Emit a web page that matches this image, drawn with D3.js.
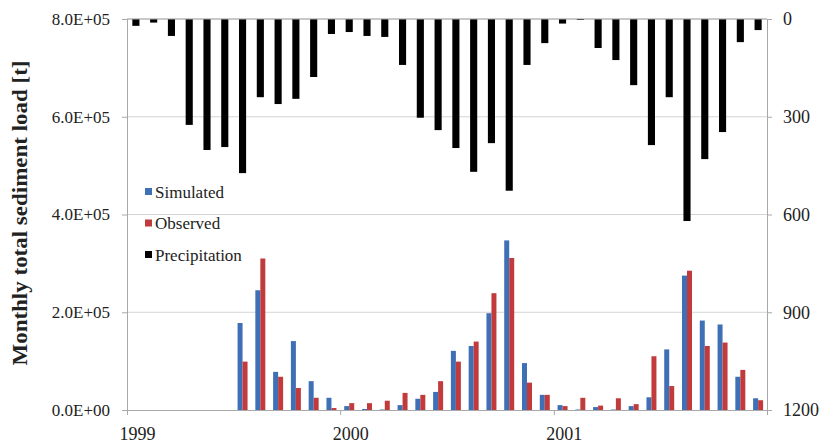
<!DOCTYPE html>
<html>
<head>
<meta charset="utf-8">
<style>
  body { margin: 0; background: #fff; }
  svg text { font-family: "Liberation Serif", "DejaVu Serif", serif; fill: #222; }
  .tick-label { font-size: 17px; }
  .axis-title { font-size: 20px; font-weight: bold; }
</style>
</head>
<body>
<div id="chart"></div>
<script src="https://d3js.org/d3.v7.min.js"></script>
<script>
  // months Jan 1999 .. Dec 2001
  const months = [
    '1999-01', '1999-02', '1999-03', '1999-04', '1999-05', '1999-06',
    '1999-07', '1999-08', '1999-09', '1999-10', '1999-11', '1999-12',
    '2000-01', '2000-02', '2000-03', '2000-04', '2000-05', '2000-06',
    '2000-07', '2000-08', '2000-09', '2000-10', '2000-11', '2000-12',
    '2001-01', '2001-02', '2001-03', '2001-04', '2001-05', '2001-06',
    '2001-07', '2001-08', '2001-09', '2001-10', '2001-11', '2001-12'
  ];

  // sediment load [t]
  const simulated = [
    0, 0, 0, 0, 0, 0, 178000, 245000, 78000, 141000, 59000, 25000,
    8000, 2000, 1000, 10000, 23000, 37000, 121000, 131000, 198000, 347000, 96000, 31000,
    10000, 1000, 6000, 1000, 8000, 26000, 124000, 275000, 183000, 175000, 68000, 24000
  ];
  const observed = [
    0, 0, 0, 0, 0, 0, 99000, 310000, 68000, 45000, 25000, 4000,
    14000, 14000, 19000, 35000, 31000, 59000, 99000, 140000, 239000, 311000, 56000, 31000,
    8000, 25000, 9000, 24000, 12000, 110000, 49000, 285000, 131000, 138000, 82000, 20000
  ];
  // precipitation [mm], hanging from the top
  const precipitation = [
    21, 11, 52, 325, 402, 393, 473, 240, 261, 245, 178, 46,
    40, 52, 55, 141, 303, 341, 396, 469, 381, 527, 141, 74,
    14, 3, 89, 126, 203, 387, 240, 620, 430, 347, 71, 34
  ];

  const leftTicks = [0, 200000, 400000, 600000, 800000];
  const rightTicks = [0, 300, 600, 900, 1200];
  const yearTicks = ['1999', '2000', '2001'];

  const seriesNames = ['Simulated', 'Observed', 'Precipitation'];
  const colors = { Simulated: '#3f70b6', Observed: '#c13b3d', Precipitation: '#000' };

  const width = 825;
  const height = 446;
  const margin = { top: 19, right: 58, bottom: 36, left: 127 };

  const svg = d3.select('#chart')
    .append('svg')
    .attr('width', width)
    .attr('height', height);

  const xScale = d3.scaleBand()
    .domain(months)
    .range([margin.left, width - margin.right]);

  const xSub = d3.scaleBand()
    .domain(['sim', 'obs'])
    .range([0, xScale.bandwidth()])
    .paddingOuter(0.78);

  const yScale = d3.scaleLinear()
    .domain([0, 800000])
    .range([height - margin.bottom, margin.top]);

  const yPrec = d3.scaleLinear()
    .domain([0, 1200])
    .range([margin.top, height - margin.bottom]);

  const yearScale = d3.scaleTime()
    .domain([new Date(1999, 0, 1), new Date(2002, 0, 1)])
    .range([margin.left, width - margin.right]);

  // gridlines
  svg.append('g')
    .selectAll('line')
    .data(leftTicks.slice(1))
    .enter()
    .append('line')
    .attr('x1', margin.left)
    .attr('x2', width - margin.right)
    .attr('y1', d => yScale(d))
    .attr('y2', d => yScale(d))
    .attr('stroke', '#d4d4d4')
    .attr('stroke-width', 1);

  // sediment bars
  const rows = months.map((m, i) => ({ m, sim: simulated[i], obs: observed[i], prec: precipitation[i] }));

  svg.append('g').selectAll('rect')
    .data(rows)
    .enter()
    .append('rect')
    .attr('x', d => xScale(d.m) + xSub('sim'))
    .attr('y', d => yScale(d.sim))
    .attr('width', xSub.bandwidth())
    .attr('height', d => yScale(0) - yScale(d.sim))
    .attr('fill', colors.Simulated);

  svg.append('g').selectAll('rect')
    .data(rows)
    .enter()
    .append('rect')
    .attr('x', d => xScale(d.m) + xSub('obs'))
    .attr('y', d => yScale(d.obs))
    .attr('width', xSub.bandwidth())
    .attr('height', d => yScale(0) - yScale(d.obs))
    .attr('fill', colors.Observed);

  // precipitation bars
  const precW = xScale.bandwidth() * 0.4;
  svg.append('g').selectAll('rect')
    .data(rows)
    .enter()
    .append('rect')
    .attr('x', d => xScale(d.m) + (xScale.bandwidth() - precW) / 2)
    .attr('y', yPrec(0))
    .attr('width', precW)
    .attr('height', d => yPrec(d.prec) - yPrec(0))
    .attr('fill', colors.Precipitation);

  // left axis
  const yAxis = d3.axisLeft(yScale)
    .tickValues(leftTicks)
    .tickSize(5)
    .tickPadding(12)
    .tickFormat(d => d3.format('.1e')(d).replace('e+', 'E+0'));
  const gLeft = svg.append('g')
    .attr('transform', `translate(${margin.left}, 0)`)
    .call(yAxis);

  // right axis
  const yAxisR = d3.axisRight(yPrec)
    .tickValues(rightTicks)
    .tickSize(5)
    .tickPadding(11)
    .tickFormat(d3.format('d'));
  const gRight = svg.append('g')
    .attr('transform', `translate(${width - margin.right}, 0)`)
    .call(yAxisR);

  // bottom axis
  const xAxis = d3.axisBottom(yearScale)
    .tickValues(yearTicks.map(y => new Date(+y, 0, 1)))
    .tickSize(5)
    .tickPadding(12)
    .tickFormat(d3.timeFormat('%Y'));
  const gBottom = svg.append('g')
    .attr('transform', `translate(0, ${height - margin.bottom})`)
    .call(xAxis);
  gBottom.selectAll('text').attr('dx', 10);

  [gLeft, gRight, gBottom].forEach(g => {
    g.select('.domain').attr('stroke', '#a8a8a8');
    g.selectAll('.tick line').attr('stroke', '#a8a8a8');
    g.selectAll('text')
      .attr('class', 'tick-label')
      .attr('fill', '#222')
      .style('font-family', '"Liberation Serif", serif');
  });
  gRight.selectAll('text').style('font-size', '18px');
  gBottom.selectAll('text').style('font-size', '18px');

  // top line
  svg.append('line')
    .attr('x1', margin.left)
    .attr('x2', width - margin.right)
    .attr('y1', margin.top)
    .attr('y2', margin.top)
    .attr('stroke', '#a8a8a8');

  // axis title (stretched a bit like the original)
  svg.append('text')
    .attr('class', 'axis-title')
    .attr('transform', 'rotate(-90)')
    .attr('x', -213)
    .attr('y', 27)
    .attr('text-anchor', 'middle')
    .attr('textLength', 305)
    .attr('lengthAdjust', 'spacingAndGlyphs')
    .text('Monthly total sediment load [t]');

  // legend
  const legend = svg.append('g')
    .attr('transform', 'translate(145, 192)');
  const items = legend.selectAll('g')
    .data(seriesNames)
    .enter()
    .append('g')
    .attr('transform', (d, i) => `translate(0, ${i * 31.5})`);
  items.append('rect')
    .attr('x', 0)
    .attr('y', -4)
    .attr('width', 7)
    .attr('height', 7)
    .attr('fill', d => colors[d]);
  items.append('text')
    .attr('x', 10)
    .attr('y', 0)
    .attr('dy', '0.35em')
    .style('font-size', '17px')
    .text(d => d);
</script>
</body>
</html>
